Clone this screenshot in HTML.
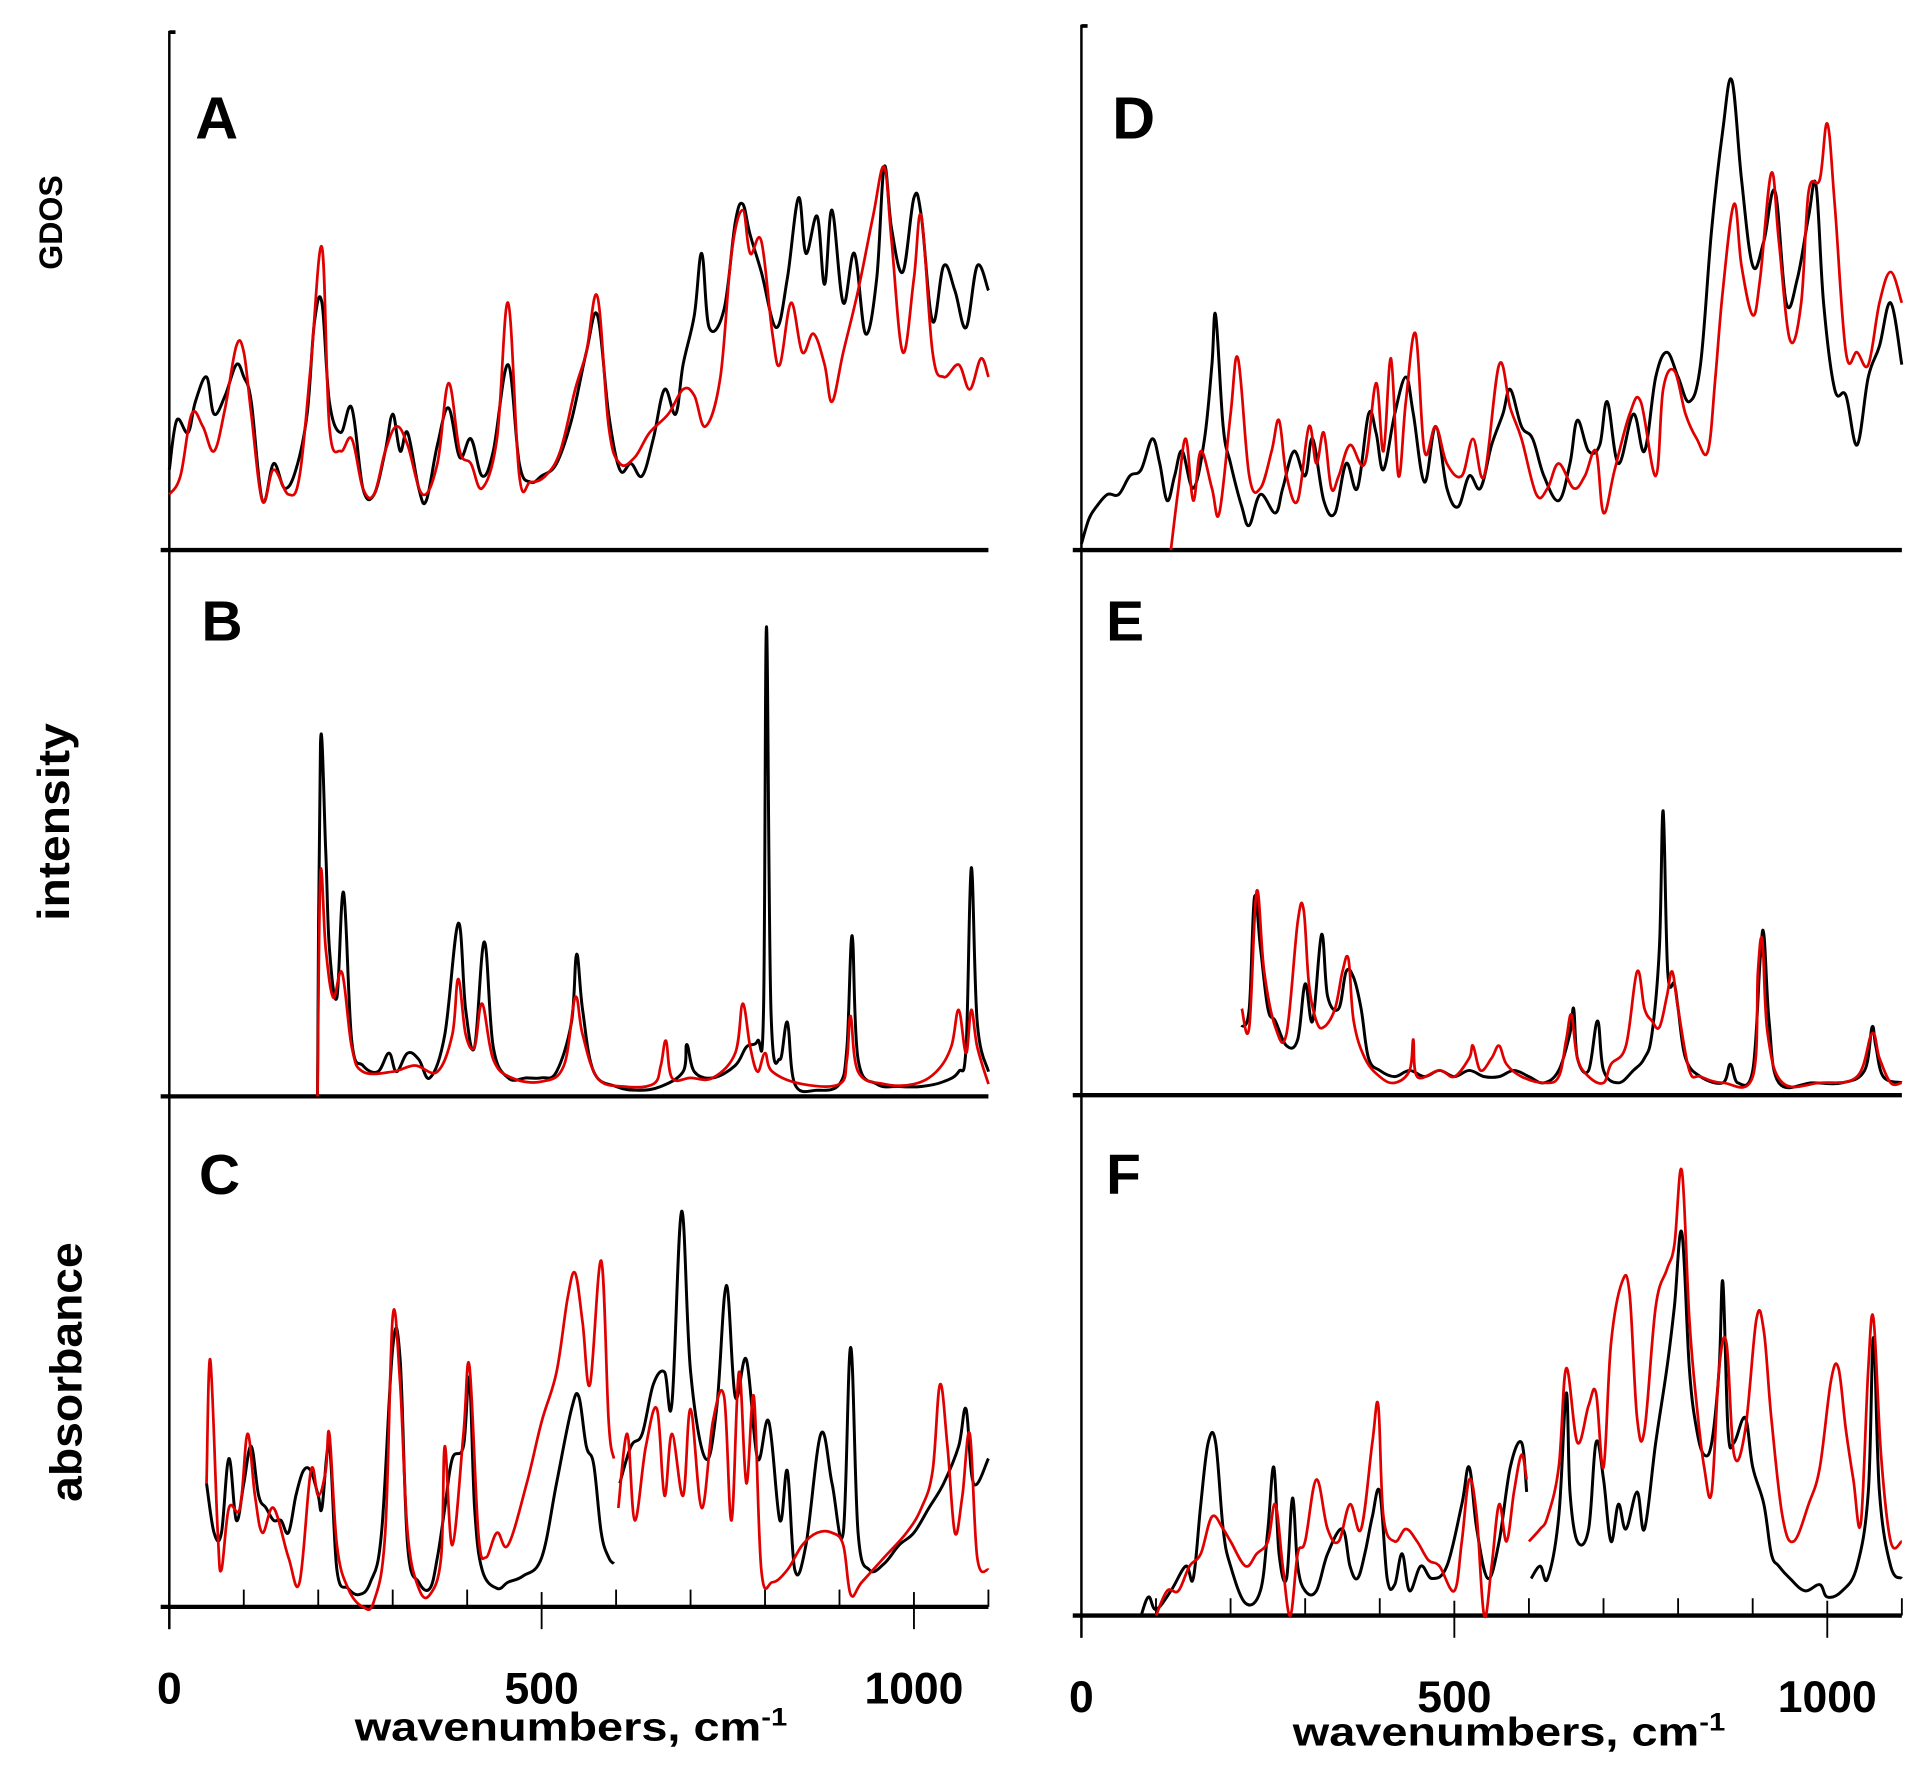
<!DOCTYPE html>
<html><head><meta charset="utf-8"><style>html,body{margin:0;padding:0;background:#fff}svg{display:block}</style></head>
<body>
<svg id="fig" width="1928" height="1775" viewBox="0 0 1560 1436" preserveAspectRatio="none" xmlns="http://www.w3.org/2000/svg" font-family="Liberation Sans, sans-serif" font-weight="bold">
<g id="axes"></g>
<g id="series"></g>
<g id="labels">
<text x="158" y="112" font-size="48">A</text>
<text x="163" y="518" font-size="46">B</text>
<text x="161" y="966" font-size="46">C</text>
<text x="900" y="112" font-size="48">D</text>
<text x="895" y="518" font-size="46">E</text>
<text x="895" y="966" font-size="46">F</text>
<text transform="translate(50,180) rotate(-90)" text-anchor="middle" font-size="26">GDOS</text>
<text transform="translate(56,665) rotate(-90)" text-anchor="middle" font-size="36" textLength="160" lengthAdjust="spacingAndGlyphs">intensity</text>
<text transform="translate(66,1110) rotate(-90)" text-anchor="middle" font-size="36" textLength="210" lengthAdjust="spacingAndGlyphs">absorbance</text>
<text x="287" y="1408" font-size="32" textLength="350" lengthAdjust="spacingAndGlyphs">wavenumbers, cm<tspan dy="-12" font-size="20">-1</tspan></text>
<text x="1046" y="1412" font-size="32" textLength="350" lengthAdjust="spacingAndGlyphs">wavenumbers, cm<tspan dy="-12" font-size="20">-1</tspan></text>
</g>
</svg>
<script>
// ---- data: [wavenumber, relative height] ----
const aBlack=[[0,65],[10,105],[25,95],[35,120],[50,140],[60,110],[75,125],[90,150],[100,140],[110,120],[125,40],[140,70],[155,50],[170,65],[185,110],[195,185],[205,200],[215,120],[230,95],[245,115],[260,50],[275,45],[290,80],[300,110],[310,80],[320,95],[335,50],[345,40],[360,85],[375,115],[390,75],[405,90],[420,60],[435,80],[455,150],[470,70],[485,55],[500,60],[520,70],[540,105],[560,160],[575,190],[590,110],[605,65],[620,70],[635,60],[650,90],[665,130],[680,110],[690,150],[705,190],[715,240],[725,180],[745,195],[760,265],[770,280],[780,255],[795,225],[815,180],[830,220],[845,285],[855,240],[870,270],[880,215],[890,275],[905,200],[920,240],[935,175],[950,220],[960,310],[970,260],[985,225],[1000,285],[1010,270],[1025,185],[1040,230],[1055,210],[1070,180],[1085,230],[1100,210]];
const aRed=[[0,45],[15,60],[30,110],[45,100],[60,80],[75,115],[90,165],[100,160],[110,110],[125,40],[140,65],[160,45],[175,60],[190,150],[205,245],[215,100],[230,80],[245,90],[260,50],[275,45],[290,80],[305,100],[320,85],[340,45],[360,70],[375,135],[390,80],[405,70],[420,50],[440,90],[455,200],[470,60],[485,55],[505,60],[525,80],[545,130],[560,160],[575,205],[590,100],[605,70],[625,75],[645,95],[670,110],[690,130],[705,125],[720,100],[740,140],[755,240],[770,275],[780,240],[795,250],[810,175],[820,150],[835,200],[850,160],[865,175],[880,150],[890,120],[905,160],[925,210],[945,270],[960,310],[970,250],[985,160],[1000,220],[1010,270],[1025,160],[1040,140],[1060,150],[1075,130],[1090,155],[1100,140]];
const dBlack=[[0,5],[10,25],[20,35],[35,45],[50,45],[65,60],[80,65],[95,90],[105,70],[115,40],[125,60],[135,80],[150,50],[165,90],[175,150],[180,190],[190,100],[200,70],[215,35],[225,20],[240,45],[260,30],[270,50],[285,80],[300,60],[310,90],[325,40],[340,30],[355,70],[370,50],[385,110],[395,95],[405,65],[420,110],[435,140],[445,110],[460,55],[475,100],[490,50],[505,35],[520,60],[535,50],[550,85],[565,110],[575,130],[590,100],[605,90],[620,60],[640,40],[655,70],[665,105],[680,80],[695,85],[705,120],[720,70],[740,110],[755,80],[770,140],[785,160],[800,140],[815,120],[830,150],[845,260],[860,340],[872,380],[885,300],[900,230],[915,250],[930,290],[945,200],[960,220],[975,270],[985,295],[995,200],[1010,130],[1025,125],[1040,85],[1055,140],[1070,165],[1085,200],[1100,150]];
const dRed=[[120,0],[130,50],[140,90],[150,40],[160,80],[175,50],[185,30],[200,110],[210,155],[225,60],[240,50],[255,80],[265,105],[275,60],[290,40],[305,100],[315,70],[325,95],[335,50],[345,60],[360,85],[380,70],[395,135],[405,80],[415,155],[425,60],[435,120],[448,175],[460,80],[475,100],[490,70],[510,60],[525,90],[540,60],[560,150],[575,115],[590,90],[610,45],[625,50],[640,70],[660,50],[675,60],[690,80],[700,30],[715,65],[735,110],[750,120],[770,60],[780,130],[795,145],[810,110],[825,90],[840,80],[850,140],[860,210],[875,280],[885,230],[900,190],[910,220],[925,305],[935,250],[950,170],[965,200],[975,290],[990,300],[1000,345],[1010,280],[1025,160],[1040,160],[1055,150],[1070,200],[1085,225],[1100,200]];
const bBlack=[[199,0],[203,285],[210,200],[215,120],[225,80],[234,165],[245,45],[260,25],[280,20],[295,35],[305,20],[320,35],[335,30],[350,15],[370,50],[388,140],[398,70],[410,40],[423,125],[435,40],[455,15],[480,15],[500,15],[520,20],[540,60],[547,115],[555,70],[570,20],[600,8],[630,5],[660,8],[690,20],[695,42],[705,20],[730,15],[760,25],[775,40],[790,45],[798,70],[802,380],[808,70],[820,30],[830,60],[840,10],[870,5],[900,10],[910,40],[917,130],[925,30],[950,10],[980,8],[1010,8],[1040,12],[1060,20],[1070,40],[1077,185],[1085,60],[1100,20]];
const bRed=[[199,0],[203,180],[210,120],[220,80],[232,100],[245,40],[260,20],[300,20],[330,25],[360,20],[380,50],[388,95],[398,50],[410,40],[420,75],[435,30],[460,15],[500,12],[530,25],[545,80],[555,50],[575,15],[610,8],[650,10],[660,25],[667,45],[675,15],[700,15],[730,15],[760,35],[770,75],[780,40],[790,20],[800,35],[810,20],[850,10],[900,10],[910,30],[915,65],[925,20],[960,10],[1000,10],[1030,20],[1050,40],[1060,70],[1070,35],[1077,70],[1085,40],[1100,10]];
const eBlack=[[215,55],[225,70],[232,160],[240,120],[250,70],[260,60],[275,40],[290,45],[300,90],[310,60],[322,130],[330,80],[345,70],[355,100],[365,95],[375,70],[385,30],[400,20],[420,15],[440,20],[460,15],[480,20],[500,15],[520,20],[540,15],[560,15],[580,20],[600,15],[620,10],[640,20],[655,50],[660,70],[665,30],[680,20],[692,60],[700,20],[720,10],[740,20],[755,30],[765,50],[775,120],[780,230],[786,100],[795,90],[800,70],[810,30],[830,15],[860,10],[870,25],[880,10],[900,20],[910,110],[915,130],[922,60],[935,10],[980,10],[1020,10],[1050,20],[1060,55],[1065,40],[1075,15],[1100,10]];
const eRed=[[215,70],[225,55],[235,165],[245,100],[260,55],[275,50],[290,140],[298,150],[305,90],[315,60],[325,55],[340,70],[350,100],[358,110],[365,60],[380,30],[400,15],[420,10],[440,20],[445,45],[450,15],[480,20],[500,15],[520,30],[525,40],[535,20],[550,30],[560,40],[570,25],[590,15],[620,10],[640,15],[650,45],[657,65],[665,30],[680,15],[700,10],[710,25],[730,40],[745,100],[755,70],[765,60],[775,55],[785,80],[792,100],[800,70],[815,20],[830,15],[860,10],[900,15],[907,100],[913,125],[920,50],[940,10],[990,10],[1040,15],[1060,50],[1070,30],[1085,10],[1100,10]];
const cBlack=[[50,100],[60,60],[70,60],[80,120],[90,70],[100,100],[110,130],[120,90],[130,80],[140,70],[150,70],[160,60],[170,90],[180,110],[190,110],[200,90],[205,80],[215,130],[225,30],[240,15],[255,10],[270,20],[285,60],[300,210],[310,200],[320,50],[335,20],[350,15],[360,40],[370,80],[380,120],[395,130],[403,185],[410,80],[420,30],[440,15],[455,20],[475,25],[500,40],[520,100],[540,160],[550,170],[560,130],[570,115],[580,60],[590,40],[597,35],null,[605,100],[620,130],[635,140],[650,180],[665,190],[675,165],[688,320],[700,190],[720,120],[735,160],[748,260],[760,170],[775,200],[790,120],[805,150],[820,70],[830,110],[840,30],[855,50],[875,140],[890,100],[905,60],[915,210],[925,60],[940,30],[960,35],[980,50],[1000,60],[1020,80],[1040,100],[1060,130],[1070,160],[1080,100],[1100,120]];
const cRed=[[50,100],[55,200],[65,60],[70,30],[80,80],[95,80],[105,140],[115,90],[125,60],[140,80],[160,40],[175,20],[190,110],[200,90],[210,110],[215,140],[225,50],[240,15],[260,0],[275,5],[290,60],[300,235],[310,180],[320,60],[335,15],[350,10],[365,40],[370,130],[380,50],[395,140],[403,195],[415,60],[425,40],[440,60],[455,50],[480,100],[500,150],[520,190],[535,250],[545,270],[555,230],[565,180],[580,280],[590,150],[597,120],null,[603,80],[615,140],[625,70],[640,130],[655,160],[665,90],[675,140],[690,90],[700,160],[715,80],[730,150],[745,170],[755,70],[765,190],[775,100],[785,170],[795,30],[810,20],[830,30],[850,50],[870,60],[890,60],[905,50],[915,10],[930,20],[960,40],[990,60],[1010,80],[1025,110],[1035,180],[1045,130],[1055,60],[1065,90],[1075,140],[1085,40],[1100,30]];
const fBlack=[[80,0],[90,15],[100,5],[120,20],[140,40],[150,30],[160,90],[170,140],[180,140],[190,70],[200,40],[220,10],[240,20],[250,70],[258,120],[265,50],[275,30],[283,95],[290,40],[300,20],[315,20],[330,50],[350,70],[360,40],[370,30],[380,50],[390,80],[400,100],[410,30],[420,25],[430,50],[440,20],[455,40],[470,30],[490,40],[510,90],[520,120],[530,70],[545,30],[560,60],[575,120],[590,140],[597,100],null,[603,30],[615,40],[625,30],[640,80],[650,180],[655,100],[665,60],[680,70],[690,140],[700,110],[710,60],[720,90],[730,70],[745,100],[755,70],[770,140],[785,200],[795,250],[805,310],[815,200],[825,150],[835,130],[845,140],[855,200],[860,270],[867,150],[875,140],[890,160],[900,120],[915,90],[925,50],[935,40],[950,30],[970,20],[990,25],[1000,15],[1020,20],[1040,40],[1055,100],[1062,225],[1070,100],[1085,40],[1100,30]];
const fRed=[[100,0],[115,20],[130,20],[145,40],[160,50],[175,80],[190,70],[200,60],[220,40],[235,50],[250,60],[260,90],[270,40],[280,0],[290,50],[300,60],[315,110],[330,70],[345,60],[360,90],[375,70],[390,140],[398,170],[405,80],[420,60],[435,70],[450,60],[465,45],[480,40],[500,20],[510,60],[520,110],[530,80],[540,0],[550,40],[560,90],[570,60],[580,100],[590,130],[597,110],null,[600,60],[615,70],[625,80],[640,120],[650,200],[665,140],[680,170],[690,180],[700,120],[710,220],[725,270],[735,260],[745,160],[755,150],[770,250],[785,280],[795,300],[805,360],[815,240],[825,170],[835,120],[845,100],[855,200],[865,220],[875,130],[890,150],[905,240],[915,230],[925,160],[940,80],[955,60],[975,90],[990,120],[1005,190],[1015,200],[1025,150],[1035,110],[1045,75],[1055,200],[1062,240],[1072,130],[1085,60],[1100,60]];
const xTicks=[0,500,1000];
const xTickLabels=["0","500","1000"];

const NS="http://www.w3.org/2000/svg";
const cols={left:{x0:137,k:0.6025},right:{x0:875,k:0.6035}};
function xs(col,v){return cols[col].x0+v*cols[col].k;}
function mk(tag,attrs,parent){const e=document.createElementNS(NS,tag);for(const a in attrs)e.setAttribute(a,attrs[a]);parent.appendChild(e);return e;}
const axesG=document.getElementById('axes');
const serG=document.getElementById('series');

const panels=[
 {id:'a',col:'left',base:445,black:aBlack,red:aRed},
 {id:'b',col:'left',base:887,black:bBlack,red:bRed},
 {id:'c',col:'left',base:1300,black:cBlack,red:cRed},
 {id:'d',col:'right',base:445,black:dBlack,red:dRed},
 {id:'e',col:'right',base:886,black:eBlack,red:eRed},
 {id:'f',col:'right',base:1307,black:fBlack,red:fRed}
];
function smoothSeg(pts){
  if(pts.length<2)return '';
  let d='M'+pts[0][0].toFixed(1)+','+pts[0][1].toFixed(1);
  const t=0.18;
  for(let i=0;i<pts.length-1;i++){
    const p0=pts[i-1]||pts[i],p1=pts[i],p2=pts[i+1],p3=pts[i+2]||p2;
    const c1x=p1[0]+(p2[0]-p0[0])*t,c1y=p1[1]+(p2[1]-p0[1])*t;
    const c2x=p2[0]-(p3[0]-p1[0])*t,c2y=p2[1]-(p3[1]-p1[1])*t;
    d+='C'+c1x.toFixed(1)+','+c1y.toFixed(1)+' '+c2x.toFixed(1)+','+c2y.toFixed(1)+' '+p2[0].toFixed(1)+','+p2[1].toFixed(1);
  }
  return d;
}
function pathFor(p,data){
  let d='',seg=[];
  data.forEach(pt=>{
    if(pt===null){d+=smoothSeg(seg);seg=[];return;}
    seg.push([xs(p.col,pt[0]),p.base-pt[1]]);
  });
  d+=smoothSeg(seg);
  return d;
}
// axes
const yl=mk('line',{x1:137,y1:25,x2:137,y2:1318,stroke:'#000','stroke-width':2},axesG);


const yr=mk('line',{x1:875,y1:20,x2:875,y2:1325,stroke:'#000','stroke-width':2},axesG);


mk('path',{d:'M137,26 L142,26',stroke:'#000','stroke-width':3},axesG);
mk('path',{d:'M875,21 L880,21',stroke:'#000','stroke-width':3},axesG);
panels.forEach(p=>{
  const bl=mk('line',{x1:p.col==='left'?130:868,y1:p.base,x2:xs(p.col,1100),y2:p.base,stroke:'#000','stroke-width':3.5},axesG);
  
  
});
// ticks on bottom panels
[['c','left',1300],['f','right',1307]].forEach(([id,col,base])=>{
  for(let v=100;v<=1100;v+=100){
    if(v%500===0)continue;
    const t=mk('line',{x1:xs(col,v),y1:base,x2:xs(col,v),y2:base-14,stroke:'#000','stroke-width':1.5},axesG);
    
    
  }
  xTicks.forEach((v,i)=>{
    const t=mk('line',{x1:xs(col,v),y1:base-12,x2:xs(col,v),y2:base+18,stroke:'#000','stroke-width':1.5},axesG);
    
    
    const lb=mk('text',{x:xs(col,v),y:base+78,'text-anchor':'middle','font-size':36},axesG);
    lb.textContent=xTickLabels[i];
    
    
  });
});
// series
panels.forEach(p=>{
  const k=mk('path',{d:pathFor(p,p.black),fill:'none',stroke:'#000','stroke-width':2.4,'stroke-linejoin':'round'},serG);
  
  
  const r=mk('path',{d:pathFor(p,p.red),fill:'none',stroke:'#e00000','stroke-width':2.2,'stroke-linejoin':'round'},serG);
  
  
});
</script>
</body></html>
